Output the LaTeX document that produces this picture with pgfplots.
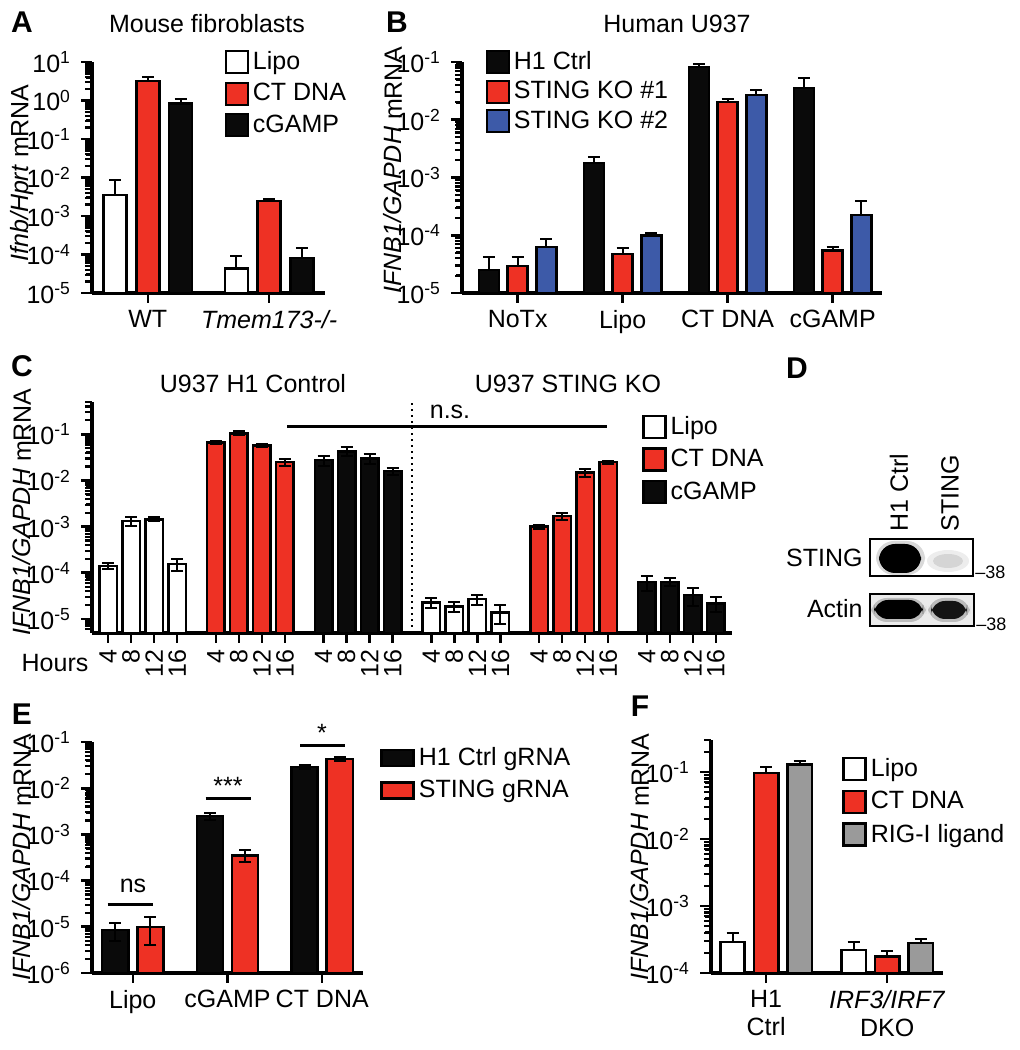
\documentclass[border=0pt]{standalone}
\usepackage{fontspec}
\setmainfont{Liberation Sans}
\usepackage{pgfplots}
\pgfplotsset{compat=1.18}
\definecolor{gred}{HTML}{EE3124}
\definecolor{gblue}{HTML}{3D5AA8}
\definecolor{gblack}{HTML}{0A0A0A}
\definecolor{ggray}{HTML}{9A9A9A}
\newcommand{\fs}{\fontsize{12.5}{14}\selectfont}
% y tick stubs drawn along the left axis line (major and minor)
\newcommand{\majticks}[2]{\pgfplotsinvokeforeach{#2}{\draw[line width=1.4pt, black] (axis cs:#1,##1) -- ++(-5.5pt,0pt);}}
\newcommand{\minticks}[2]{\pgfplotsinvokeforeach{#2}{\draw[line width=1.1pt, black] (axis cs:#1,##1) -- ++(-3.6pt,0pt);}}
\pgfplotsset{
  panelstyle/.style={
    scale only axis,
    axis x line*=bottom, axis y line*=left,
    axis line style={line width=1.6pt},
    tick align=outside,
    tick style={black, line width=1.2pt},
    major tick length=5pt,
    enlargelimits=false, clip=false,
    tick label style={font=\fs},
    yticklabel style={xshift=-2pt},
    log number format basis/.code 2 args={##1\textsuperscript{\pgfmathprintnumber[assume math mode=true]{##2}}},
    legend cell align=left,
    legend style={draw=none, fill=none, anchor=north west, font=\fs, inner sep=0pt, row sep=1.5pt},
    legend image code/.code={\draw[##1, line width=1.2pt] (0pt,-5.5pt) rectangle (11pt,5.5pt);},
    error bars/y dir=plus, error bars/y explicit,
    error bars/error bar style={line width=1pt, black},
    error bars/error mark options={rotate=90, line width=1pt, mark size=3pt, black},
  },
}
\tikzset{
  bw/.style={draw=black, fill=white, line width=1.3pt},
  br/.style={draw=black, fill=gred, line width=1.3pt},
  bk/.style={draw=black, fill=gblack, line width=1.3pt},
  bb/.style={draw=black, fill=gblue, line width=1.3pt},
  bg/.style={draw=black, fill=ggray, line width=1.3pt},
}
\begin{document}
\begin{tikzpicture}
\path[use as bounding box] (0pt,0pt) rectangle (509.5pt,525pt);

% ---------------- A
\begin{axis}[ymode=log, log origin=infty, ybar, panelstyle, at={(46pt,378.5pt)}, width=116.5pt, height=115.5pt,
  xmin=-0.46, xmax=1.46, ymin=1e-5, ymax=10, bar width=0.19,
  ytick={1e-5,1e-4,1e-3,1e-2,1e-1,1,10},
  xtick={0,1}, xticklabels={WT,\textit{Tmem173-/-}},
  legend style={at={(0.567,1.065)}}]
\addplot[bw, bar shift=-0.27] table[x=x,y=y,y error=e] {
x y e
0 3.5e-3 5.2e-3
1 4.4e-5 4.7e-5
};
\addlegendentry{Lipo}
\addplot[br, bar shift=0] table[x=x,y=y,y error=e] {
x y e
0 3.2 0.9
1 2.45e-3 0.25e-3
};
\addlegendentry{CT DNA}
\addplot[bk, bar shift=0.27] table[x=x,y=y,y error=e] {
x y e
0 0.85 0.25
1 8.1e-5 6.9e-5
};
\addlegendentry{cGAMP}
\majticks{-0.46}{1e-5,1e-4,1e-3,1e-2,1e-1,1,10}
\minticks{-0.46}{2e-5,3e-5,4e-5,5e-5,6e-5,7e-5,8e-5,9e-5,2e-4,3e-4,4e-4,5e-4,6e-4,7e-4,8e-4,9e-4,2e-3,3e-3,4e-3,5e-3,6e-3,7e-3,8e-3,9e-3,2e-2,3e-2,4e-2,5e-2,6e-2,7e-2,8e-2,9e-2,0.2,0.3,0.4,0.5,0.6,0.7,0.8,0.9,2,3,4,5,6,7,8,9}
\end{axis}

% ---------------- B
\begin{axis}[ymode=log, log origin=infty, ybar, panelstyle, at={(231pt,378.5pt)}, width=210pt, height=115.5pt,
  xmin=-0.53, xmax=3.47, ymin=1e-5, ymax=0.1, bar width=0.19,
  ytick={1e-5,1e-4,1e-3,1e-2,1e-1},
  xtick={0,1,2,3}, xticklabels={NoTx,Lipo,CT DNA,cGAMP},
  legend style={at={(0.055,1.065)}, row sep=0.5pt}]
\addplot[bk, bar shift=-0.273] table[x=x,y=y,y error=e] {
x y e
0 2.5e-5 1.7e-5
1 1.78e-3 0.48e-3
2 0.082 0.010
3 0.0354 0.0166
};
\addlegendentry{H1 Ctrl}
\addplot[br, bar shift=0] table[x=x,y=y,y error=e] {
x y e
0 2.95e-5 1.25e-5
1 4.7e-5 1.3e-5
2 0.0204 0.0029
3 5.4e-5 0.9e-5
};
\addlegendentry{STING KO \#1}
\addplot[bb, bar shift=0.273] table[x=x,y=y,y error=e] {
x y e
0 6.3e-5 2.2e-5
1 9.8e-5 1.2e-5
2 0.0268 0.0059
3 2.24e-4 1.66e-4
};
\addlegendentry{STING KO \#2}
\majticks{-0.53}{1e-5,1e-4,1e-3,1e-2,1e-1}
\minticks{-0.53}{2e-5,3e-5,4e-5,5e-5,6e-5,7e-5,8e-5,9e-5,2e-4,3e-4,4e-4,5e-4,6e-4,7e-4,8e-4,9e-4,2e-3,3e-3,4e-3,5e-3,6e-3,7e-3,8e-3,9e-3,2e-2,3e-2,4e-2,5e-2,6e-2,7e-2,8e-2,9e-2}
\end{axis}

% ---------------- C
\begin{axis}[ymode=log, log origin=infty, ybar, panelstyle, at={(46pt,208.5pt)}, width=320pt, height=115.5pt,
  xmin=-0.70, xmax=27.1, ymin=5e-6, ymax=0.5, bar width=0.76,
  ytick={1e-5,1e-4,1e-3,1e-2,1e-1},
  error bars/y dir=both,
  xtick={0,1,2,3,4.68,5.68,6.68,7.68,9.36,10.36,11.36,12.36,14.04,15.04,16.04,17.04,18.72,19.72,20.72,21.72,23.4,24.4,25.4,26.4},
  xticklabels={4,8,12,16,4,8,12,16,4,8,12,16,4,8,12,16,4,8,12,16,4,8,12,16},
  xticklabel style={rotate=90, anchor=east},
  legend style={at={(0.859,0.957)}, row sep=2pt}]
\addplot[bw, bar shift=0] table[x=x,y=y,y error=e] {
x y e
0 1.4e-4 0.2e-4
1 1.32e-3 0.28e-3
2 1.45e-3 0.15e-3
3 1.55e-4 0.45e-4
};
\addlegendentry{Lipo}
\addplot[br, bar shift=0] table[x=x,y=y,y error=e] {
x y e
4.68 0.067 0.005
5.68 0.105 0.010
6.68 0.058 0.005
7.68 0.025 0.004
};
\addlegendentry{CT DNA}
\addplot[bk, bar shift=0] table[x=x,y=y,y error=e] {
x y e
9.36 0.0275 0.0065
10.36 0.043 0.009
11.36 0.030 0.007
12.36 0.016 0.003
};
\addlegendentry{cGAMP}
\addplot[bw, bar shift=0, forget plot] table[x=x,y=y,y error=e] {
x y e
14.04 2.3e-5 0.6e-5
15.04 1.9e-5 0.5e-5
16.04 2.7e-5 0.7e-5
17.04 1.4e-5 0.6e-5
};
\addplot[br, bar shift=0, forget plot] table[x=x,y=y,y error=e] {
x y e
18.72 1.0e-3 0.1e-3
19.72 1.7e-3 0.3e-3
20.72 0.015 0.003
21.72 0.025 0.002
};
\addplot[bk, bar shift=0, forget plot] table[x=x,y=y,y error=e] {
x y e
23.4 6.3e-5 2.2e-5
24.4 6.4e-5 1.3e-5
25.4 3.3e-5 1.4e-5
26.4 2.2e-5 0.8e-5
};
\draw[line width=1.3pt] (axis cs:7.78,0.149) -- (axis cs:21.68,0.149);
\draw[line width=1pt, dotted] (axis cs:13.2,5e-6) -- (axis cs:13.2,0.5);
\majticks{-0.70}{1e-5,1e-4,1e-3,1e-2,1e-1}
\minticks{-0.70}{6e-6,7e-6,8e-6,9e-6,2e-5,3e-5,4e-5,5e-5,6e-5,7e-5,8e-5,9e-5,2e-4,3e-4,4e-4,5e-4,6e-4,7e-4,8e-4,9e-4,2e-3,3e-3,4e-3,5e-3,6e-3,7e-3,8e-3,9e-3,2e-2,3e-2,4e-2,5e-2,6e-2,7e-2,8e-2,9e-2,0.2,0.3,0.4,0.5}
\end{axis}

% ---------------- E
\begin{axis}[ymode=log, log origin=infty, ybar, panelstyle, at={(46pt,38.5pt)}, width=135.5pt, height=115.5pt,
  xmin=-0.43, xmax=2.43, ymin=1e-6, ymax=0.1, bar width=0.275,
  ytick={1e-6,1e-5,1e-4,1e-3,1e-2,1e-1},
  error bars/y dir=both,
  xtick={0,1,2}, xticklabels={Lipo,cGAMP,CT DNA},
  legend style={at={(1.063,0.996)}, row sep=2pt},
  legend image code/.code={\draw[#1, line width=1.2pt] (0pt,-4pt) rectangle (16pt,4pt);}]
\addplot[bk, bar shift=-0.185] table[x=x,y=y,y error=e] {
x y e
0 8.5e-6 3.5e-6
1 2.5e-3 0.4e-3
2 0.029 0.003
};
\addlegendentry{H1 Ctrl gRNA}
\addplot[br, bar shift=0.185] table[x=x,y=y,y error=e] {
x y e
0 1.0e-5 0.6e-5
1 3.5e-4 1.0e-4
2 0.043 0.004
};
\addlegendentry{STING gRNA}
\draw[line width=1.5pt] (axis cs:-0.265,3.1e-5) -- (axis cs:0.21,3.1e-5);
\draw[line width=1.5pt] (axis cs:0.77,6.1e-3) -- (axis cs:1.25,6.1e-3);
\draw[line width=1.5pt] (axis cs:1.77,0.086) -- (axis cs:2.24,0.086);
\majticks{-0.43}{1e-6,1e-5,1e-4,1e-3,1e-2,1e-1}
\minticks{-0.43}{2e-6,3e-6,4e-6,5e-6,6e-6,7e-6,8e-6,9e-6,2e-5,3e-5,4e-5,5e-5,6e-5,7e-5,8e-5,9e-5,2e-4,3e-4,4e-4,5e-4,6e-4,7e-4,8e-4,9e-4,2e-3,3e-3,4e-3,5e-3,6e-3,7e-3,8e-3,9e-3,2e-2,3e-2,4e-2,5e-2,6e-2,7e-2,8e-2,9e-2}
\end{axis}

% ---------------- F
\begin{axis}[ymode=log, log origin=infty, ybar, panelstyle, at={(355.5pt,38.5pt)}, width=116pt, height=116.5pt,
  xmin=-0.455, xmax=1.46, ymin=1e-4, ymax=0.3, bar width=0.2,
  ytick={1e-4,1e-3,1e-2,1e-1},
  xtick={0,1}, xticklabels={{H1\\Ctrl},{\textit{IRF3/IRF7}\\DKO}},
  xticklabel style={align=center},
  legend style={at={(0.565,0.94)}, row sep=2pt}]
\addplot[bw, bar shift=-0.277] table[x=x,y=y,y error=e] {
x y e
0 2.9e-4 1.1e-4
1 2.2e-4 0.7e-4
};
\addlegendentry{Lipo}
\addplot[br, bar shift=0] table[x=x,y=y,y error=e] {
x y e
0 0.097 0.023
1 1.75e-4 0.35e-4
};
\addlegendentry{CT DNA}
\addplot[bg, bar shift=0.277] table[x=x,y=y,y error=e] {
x y e
0 0.13 0.016
1 2.8e-4 0.4e-4
};
\addlegendentry{RIG-I ligand}
\majticks{-0.455}{1e-4,1e-3,1e-2,1e-1}
\minticks{-0.455}{2e-4,3e-4,4e-4,5e-4,6e-4,7e-4,8e-4,9e-4,2e-3,3e-3,4e-3,5e-3,6e-3,7e-3,8e-3,9e-3,2e-2,3e-2,4e-2,5e-2,6e-2,7e-2,8e-2,9e-2,0.2,0.3}
\end{axis}

% ---------------- text and blot, in pixel coordinates
\begin{scope}[x=0.5pt, y=-0.5pt, shift={(0pt,525pt)}, every node/.style={font=\fs, inner sep=0pt}]
\node[font=\fontsize{15}{17}\selectfont\bfseries] at (22,22) {A};
\node[font=\fontsize{15}{17}\selectfont\bfseries] at (397,22) {B};
\node[font=\fontsize{15}{17}\selectfont\bfseries] at (22,366) {C};
\node[font=\fontsize{15}{17}\selectfont\bfseries] at (797,368) {D};
\node[font=\fontsize{15}{17}\selectfont\bfseries] at (22,714) {E};
\node[font=\fontsize{15}{17}\selectfont\bfseries] at (640,706) {F};
\node at (207,24) {Mouse fibroblasts};
\node at (677,24) {Human U937};
\node at (253,384) {U937 H1 Control};
\node at (568,384) {U937 STING KO};
\node at (450,412) {n.s.};
\node at (55,663) {Hours};
\node at (133,886) {ns};
\node at (228,786) {***};
\node at (322,733) {*};
\node[rotate=90] at (22,173) {\textit{Ifnb/Hprt} mRNA};
\node[rotate=90] at (393,170) {\textit{IFNB1/GAPDH} mRNA};
\node[rotate=90] at (22,512) {\textit{IFNB1/GAPDH} mRNA};
\node[rotate=90] at (22,857) {\textit{IFNB1/GAPDH} mRNA};
\node[rotate=90] at (640,857) {\textit{IFNB1/GAPDH} mRNA};
% western blot
\begin{scope}
\clip (870,539) rectangle (973,576);
\fill[black, opacity=0.15, rounded corners=9pt] (876,541) rectangle (925,575);
\fill[black, rounded corners=8pt] (879,544) rectangle (921,573);
\fill[black, opacity=0.07] (948,561) ellipse (21 and 11);
\fill[black, opacity=0.10] (948,561) ellipse (15 and 7);
\end{scope}
\draw[line width=1pt] (870,539) rectangle (973,576);
\begin{scope}
\clip (870,594) rectangle (974,626);
\fill[black!8] (870,594) rectangle (974,626);
\fill[black, opacity=0.2, rounded corners=8pt] (871,598) rectangle (926,622);
\fill[black, rounded corners=7pt] (874,600) rectangle (923,619);
\fill[black, opacity=0.2, rounded corners=8pt] (928,598) rectangle (970,622);
\fill[black!92, rounded corners=7pt] (931,601) rectangle (967,619);
\end{scope}
\draw[line width=1pt] (870,594) rectangle (974,626);
\node[rotate=90, anchor=west] at (899,532) {H1 Ctrl};
\node[rotate=90, anchor=west] at (950,532) {STING};
\node[anchor=east] at (863,558) {STING};
\node[anchor=east] at (863,609) {Actin};
\node[anchor=west, font=\fontsize{9}{10}\selectfont] at (975,572) {--38};
\node[anchor=west, font=\fontsize{9}{10}\selectfont] at (976,624) {--38};
\end{scope}
\end{tikzpicture}
\end{document}
